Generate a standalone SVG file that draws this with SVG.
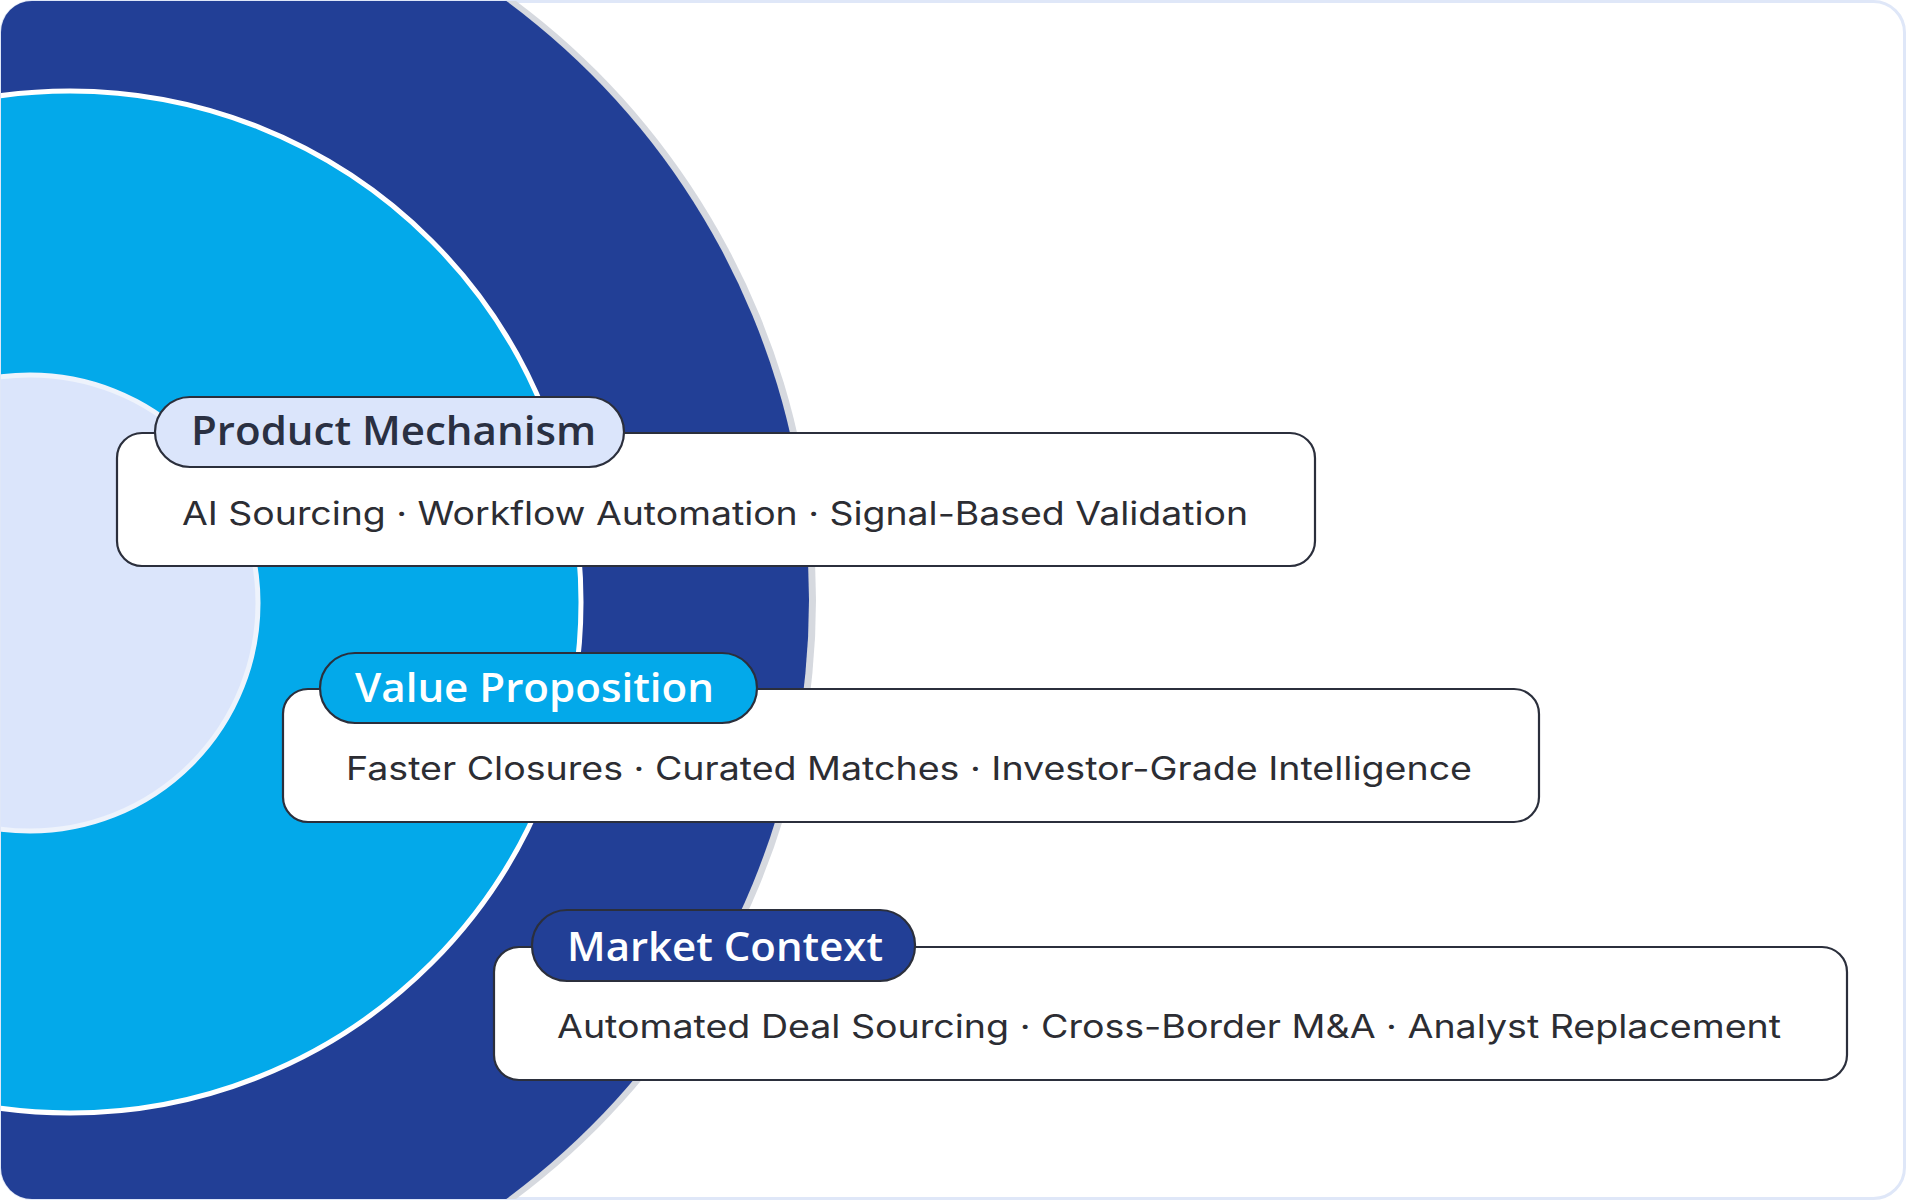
<svg xmlns="http://www.w3.org/2000/svg" width="1906" height="1200" viewBox="0 0 1906 1200">
  <style>
    .box { fill: #ffffff; stroke: #2b2f3c; stroke-width: 2.2; }
    .pill { stroke: #2b2f3c; stroke-width: 2.2; }
    .title { font-family: "Open Sans", "Noto Sans", "Liberation Sans", sans-serif; font-weight: 600; font-size: 40px; }
    .body { font-family: "Inter", "Open Sans", "Liberation Sans", sans-serif; font-weight: 400; font-size: 32px; fill: #2c2d33; }
  </style>
  <defs>
    <clipPath id="frameClip">
      <rect x="1" y="1" width="1904" height="1198" rx="31" ry="31"/>
    </clipPath>
  </defs>
  <rect x="1.5" y="1.5" width="1903" height="1197" rx="31" ry="31" fill="#ffffff" stroke="#dfe7f8" stroke-width="3"/>
  <g id="rings" clip-path="url(#frameClip)">
    <circle cx="68" cy="600" r="748" fill="#d6d9df"/>
    <circle cx="65" cy="600" r="744" fill="#223f96"/>
    <circle cx="70" cy="602" r="511" fill="#03a9ea" stroke="#ffffff" stroke-width="5"/>
    <circle cx="30" cy="603" r="228" fill="#dbe5fb" stroke="#eef3fc" stroke-width="5"/>
  </g>
  <g id="connectors"></g>
  <g id="node-product-mechanism">
    <rect class="box" x="117" y="433" width="1198" height="133" rx="25" ry="25"/>
    <rect class="pill" x="155" y="397" width="469" height="70" rx="35" ry="35" fill="#dbe5fb"/>
    <text class="title" x="191" y="445" fill="#2a3042" textLength="405" lengthAdjust="spacingAndGlyphs">Product Mechanism</text>
    <text class="body" x="182" y="525" textLength="1066" lengthAdjust="spacingAndGlyphs">AI Sourcing · Workflow Automation · Signal-Based Validation</text>
  </g>
  <g id="node-value-proposition">
    <rect class="box" x="283" y="689" width="1256" height="133" rx="25" ry="25"/>
    <rect class="pill" x="320" y="653" width="437" height="70" rx="35" ry="35" fill="#03a9ea"/>
    <text class="title" x="355" y="702" fill="#ffffff" textLength="359" lengthAdjust="spacingAndGlyphs">Value Proposition</text>
    <text class="body" x="346" y="780" textLength="1126" lengthAdjust="spacingAndGlyphs">Faster Closures · Curated Matches · Investor-Grade Intelligence</text>
  </g>
  <g id="node-market-context">
    <rect class="box" x="494" y="947" width="1353" height="133" rx="25" ry="25"/>
    <rect class="pill" x="532" y="910" width="383" height="71" rx="35" ry="35" fill="#223f96"/>
    <text class="title" x="567" y="961" fill="#ffffff" textLength="316" lengthAdjust="spacingAndGlyphs">Market Context</text>
    <text class="body" x="557" y="1038" textLength="1224" lengthAdjust="spacingAndGlyphs">Automated Deal Sourcing · Cross-Border M&amp;A · Analyst Replacement</text>
  </g>
</svg>
